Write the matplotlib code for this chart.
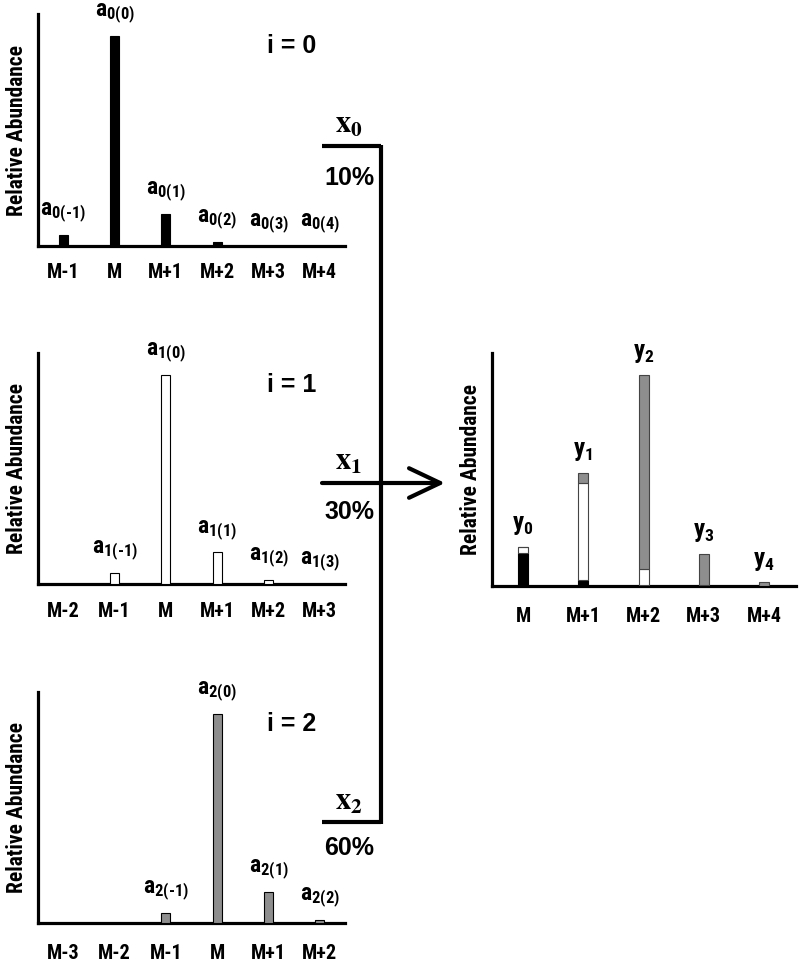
import matplotlib
matplotlib.use("Agg")
import matplotlib.pyplot as plt
from matplotlib import font_manager as fm


def has_bold(name):
    for f in fm.fontManager.ttflist:
        if f.name == name:
            w = f.weight
            if isinstance(w, str):
                w = {"bold": 700, "heavy": 800, "black": 900, "semibold": 600,
                     "demibold": 600}.get(w.lower(), 400)
            if w >= 700:
                return True
    return False


NARROW = "Liberation Sans"
for cand in ["Liberation Sans Narrow", "Arial Narrow", "Roboto Condensed", "PT Sans Narrow",
             "Archivo Narrow"]:
    if has_bold(cand):
        NARROW = cand
        break
SANS = "Liberation Sans"

plt.rcParams["font.family"] = [NARROW, "DejaVu Sans"]
plt.rcParams["font.weight"] = "bold"
plt.rcParams["mathtext.fontset"] = "custom"
plt.rcParams["mathtext.bf"] = f"{NARROW}:bold"
plt.rcParams["mathtext.rm"] = f"{NARROW}:bold"
plt.rcParams["mathtext.it"] = f"{NARROW}:bold"
plt.rcParams["mathtext.sf"] = f"{NARROW}:bold"

# ---------------- data ----------------
cats_i0 = ["M-1", "M", "M+1", "M+2", "M+3", "M+4"]
cats_i1 = ["M-2", "M-1", "M", "M+1", "M+2", "M+3"]
cats_i2 = ["M-3", "M-2", "M-1", "M", "M+1", "M+2"]

vals_i0 = [5.2, 100, 15.2, 1.8, 0, 0]
vals_i1 = [0, 5.2, 100, 15.2, 1.9, 0]
vals_i2 = [0, 0, 4.8, 100, 14.8, 1.5]

labels_i0 = ["0(-1)", "0(0)", "0(1)", "0(2)", "0(3)", "0(4)"]
labels_i1 = [None, "1(-1)", "1(0)", "1(1)", "1(2)", "1(3)"]
labels_i2 = [None, None, "2(-1)", "2(0)", "2(1)", "2(2)"]

cats_y = ["M", "M+1", "M+2", "M+3", "M+4"]
y_black = [15.6, 2.8, 0.3, 0.4, 0]
y_white = [2.8, 46.0, 7.6, 0, 0]
y_gray = [0, 4.7, 92.1, 14.8, 1.7]
labels_y = ["0", "1", "2", "3", "4"]

mix_names = ["0", "1", "2"]
mix_pcts = ["10%", "30%", "60%"]

GRAY = "#8e8e8e"

W, H = 800, 973
fig = plt.figure(figsize=(W / 100, H / 100), dpi=100)


def rect(left, top, right, bottom):
    return [left / W, 1 - bottom / H, (right - left) / W, (bottom - top) / H]


def sublabel(letter, sub):
    parts = sub.split("-")
    body = r"\text{-}".join(r"\mathbf{" + p + "}" for p in parts)
    return r"$\mathbf{" + letter + "}_{" + body + "}$"


def style_axes(ax, pad):
    for s in ["top", "right"]:
        ax.spines[s].set_visible(False)
    for s in ["left", "bottom"]:
        ax.spines[s].set_linewidth(2.3)
    ax.set_yticks([])
    ax.tick_params(axis="x", length=0, pad=pad, labelsize=14.5)
    ax.set_ylabel("Relative Abundance", fontsize=15.5, fontweight="bold", labelpad=7)
    ax.patch.set_alpha(0)


def left_panel(box, cats, vals, labels, face, title, pad):
    ax = fig.add_axes(rect(*box))
    x = list(range(len(cats)))
    ax.bar(x, vals, width=0.175, color=face, edgecolor="black", linewidth=0.8, zorder=3)
    ax.set_xlim(-0.49, 5.49)
    ax.set_ylim(0, 110.5)
    ax.set_xticks(x)
    ax.set_xticklabels(cats, fontweight="bold")
    style_axes(ax, pad)
    for xi, v, lab in zip(x, vals, labels):
        if lab is None:
            continue
        ax.annotate(sublabel("a", lab), xy=(xi, v), xytext=(0, 7),
                    textcoords="offset points", ha="center", va="bottom", fontsize=17)
    ax.text(0.825, 0.86, title, transform=ax.transAxes, ha="center", va="center",
            fontsize=18, fontweight="bold", family=[SANS, "DejaVu Sans"])
    return ax


left_panel((38, 14, 345, 246), cats_i0, vals_i0, labels_i0, "black", "i = 0", 12)
left_panel((38, 353, 345, 584), cats_i1, vals_i1, labels_i1, "white", "i = 1", 13)
left_panel((38, 692, 345, 923), cats_i2, vals_i2, labels_i2, GRAY, "i = 2", 15)

# right panel
axr = fig.add_axes(rect(492, 353, 796, 586))
xr = list(range(len(cats_y)))
bw = 0.166
axr.bar(xr, y_black, width=bw, color="black", edgecolor="black", linewidth=0.8, zorder=3)
axr.bar(xr, y_white, width=bw, bottom=y_black, color="white", edgecolor="#444444",
        linewidth=0.8, zorder=3)
bot2 = [a + b for a, b in zip(y_black, y_white)]
axr.bar(xr, y_gray, width=bw, bottom=bot2, color=GRAY, edgecolor="#444444", linewidth=0.8,
        zorder=3)
axr.set_xlim(-0.515, 4.53)
axr.set_ylim(0, 110.4)
axr.set_xticks(xr)
axr.set_xticklabels(cats_y, fontweight="bold")
style_axes(axr, 15)
for xi, tot, lab in zip(xr, [a + b + c for a, b, c in zip(y_black, y_white, y_gray)], labels_y):
    axr.annotate(sublabel("y", lab), xy=(xi, tot), xytext=(0, 7),
                 textcoords="offset points", ha="center", va="bottom", fontsize=18)

# overlay for connectors
ov = fig.add_axes([0, 0, 1, 1], zorder=10)
ov.set_xlim(0, W)
ov.set_ylim(H, 0)
ov.axis("off")
ov.patch.set_alpha(0)
lw = 3.0
ov.plot([322, 381], [146, 146], color="black", lw=lw, solid_capstyle="butt")
ov.plot([381, 381], [144.5, 823.5], color="black", lw=lw, solid_capstyle="butt")
ov.plot([322, 381], [822, 822], color="black", lw=lw, solid_capstyle="butt")
ov.annotate("", xy=(445, 483), xytext=(322, 483),
            arrowprops=dict(arrowstyle="->,head_length=0.8,head_width=0.38", lw=lw,
                            color="black", shrinkA=0, shrinkB=0, mutation_scale=28))

for name, pct, ty, py in zip(mix_names, mix_pcts, [124, 461, 801], [178, 512, 848]):
    ov.text(349, ty, r"$\mathbf{x}_{\mathbf{" + name + "}}$", ha="center", va="center",
            fontsize=22, math_fontfamily="stix")
    ov.text(349, py, pct, ha="center", va="center", fontsize=18, fontweight="bold",
            family=[SANS, "DejaVu Sans"])

fig.savefig("out.png", dpi=100)
